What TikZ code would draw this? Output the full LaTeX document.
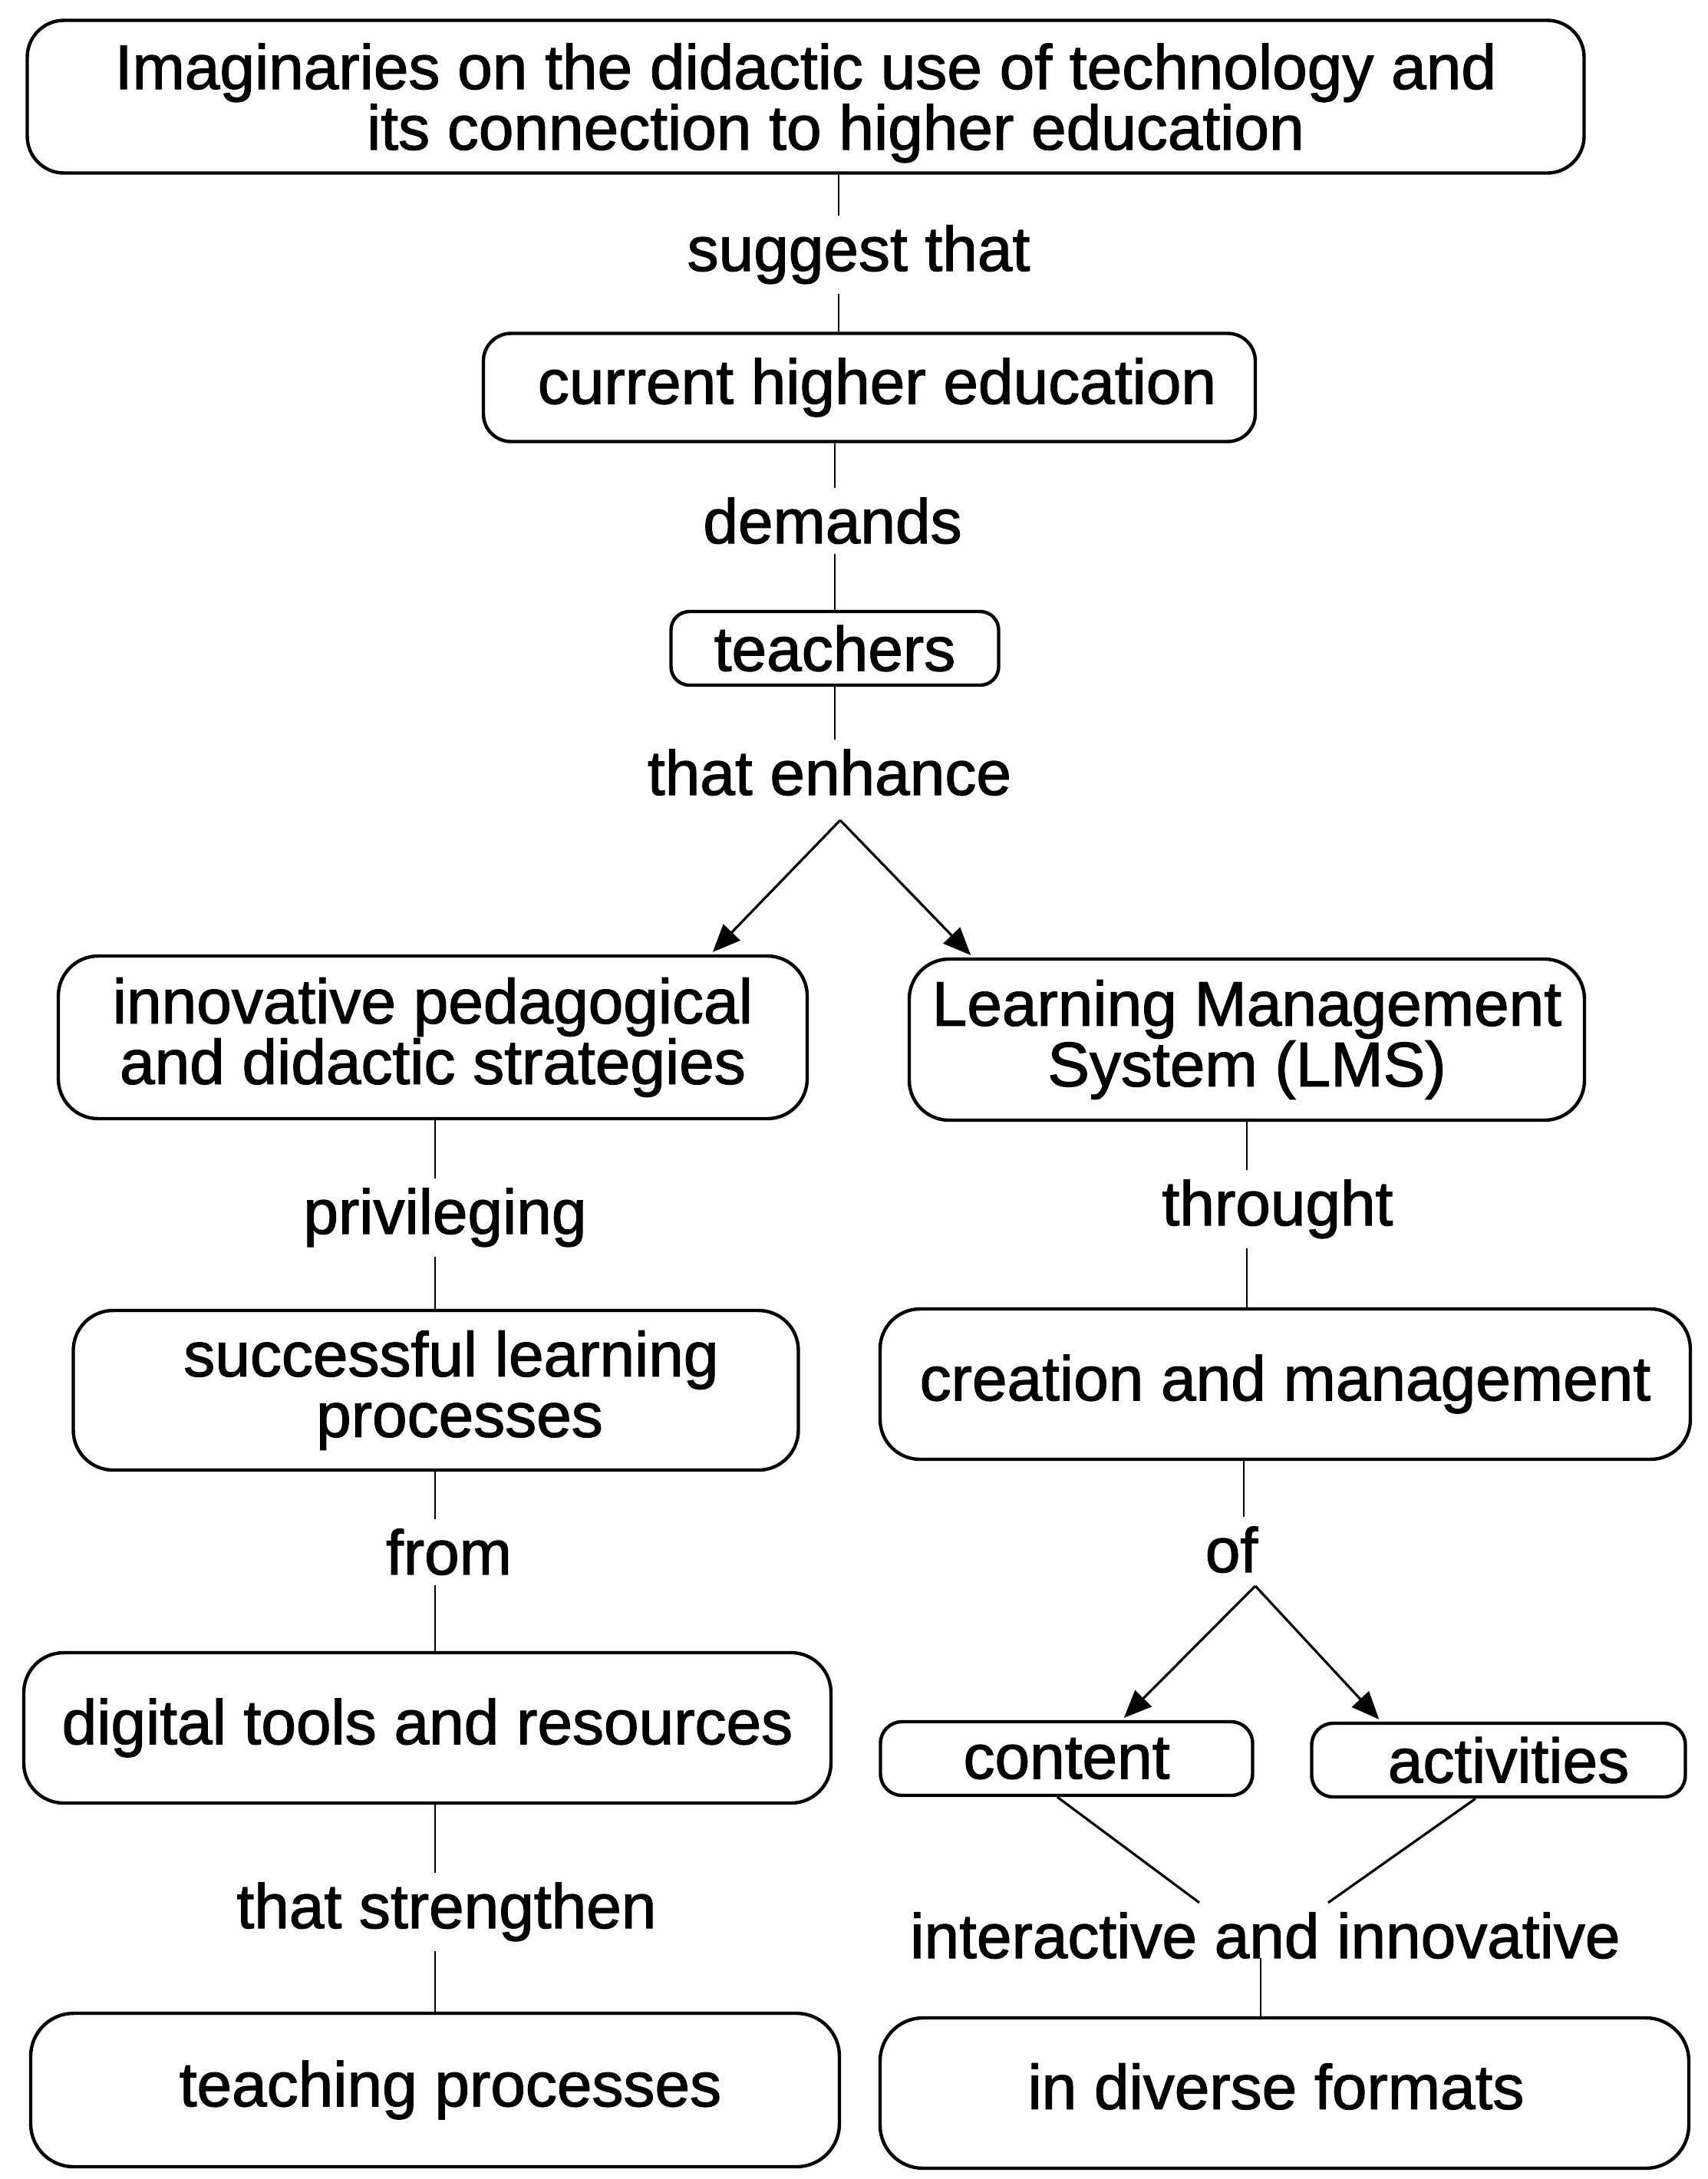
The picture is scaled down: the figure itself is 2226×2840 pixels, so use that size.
\documentclass[tikz,border=0pt]{standalone}
\usepackage{fontspec}
\setmainfont{Liberation Sans}[FakeBold=1.5]
\usetikzlibrary{arrows.meta}
\newcommand{\mylblfont}{\fontsize{20.5pt}{19.75pt}\selectfont}
\tikzset{
  box/.style={draw, line width=1.1pt, rounded corners=#1, align=center, inner sep=0pt, font=\mylblfont},
  box/.default=12pt,
  conn/.style={line width=0.65pt},
  diag/.style={line width=0.8pt},
  arr/.style={line width=0.8pt, -{Triangle[length=9pt,width=7.5pt]}, shorten >=1pt},
  lab/.style={inner sep=3pt, font=\mylblfont, anchor=base}
}
\begin{document}
\begin{tikzpicture}[x=0.25pt,y=-0.25pt]
\useasboundingbox (0,0) rectangle (2226,2840);

% boxes
\node[box=12pt, minimum width=507.25pt, minimum height=49.75pt] (top) at (1050,126)
  {\rule{0pt}{19pt}Imaginaries on the didactic use of technology and\\\hspace*{19.5pt}its connection to higher education};
\node[box=9pt, minimum width=251.5pt, minimum height=35.25pt] (current) at (1133,505)
  {\hspace*{5pt}current higher education};
\node[box=6pt, minimum width=106.75pt, minimum height=24pt] (teachers) at (1088,845) {teachers};
\node[box=13pt, minimum width=244pt, minimum height=53pt] (innov) at (564,1352)
  {innovative pedagogical\\and didactic strategies};
\node[box=13pt, minimum width=220pt, minimum height=52.5pt] (lms) at (1625,1355)
  {Learning Management\\System (LMS)};
\node[box=13pt, minimum width=236.25pt, minimum height=52pt] (success) at (568,1812)
  {\hspace*{10pt}successful learning\\\hspace*{15.5pt}processes};
\node[box=13pt, minimum width=264pt, minimum height=49pt] (creation) at (1675,1804)
  {creation and management};
\node[box=13pt, minimum width=263pt, minimum height=49pt] (digital) at (557,2252)
  {digital tools and resources};
\node[box=7pt, minimum width=121.25pt, minimum height=24pt] (content) at (1390,2292) {content};
\node[box=7pt, minimum width=121.75pt, minimum height=24pt] (activities) at (1953,2294)
  {\hspace*{6.5pt}activities};
\node[box=14pt, minimum width=263.5pt, minimum height=49pt, text depth=4.5pt] (formats) at (1674,2728)
  {\hspace*{-5.5pt}in diverse formats};
\node[box=14pt, minimum width=263.5pt, minimum height=50pt] (teaching) at (567,2724)
  {\hspace*{10pt}teaching processes};

% linking phrases
\node[lab] (suggest) at (1119,353) {suggest that};
\node[lab] (demands) at (1085,708) {demands};
\node[lab] (enhance) at (1081,1036) {that enhance};
\node[lab] (privileging) at (580,1608) {privileging};
\node[lab] (throught) at (1665,1597) {throught};
\node[lab] (from) at (585,2052) {from};
\node[lab] (of) at (1605,2049) {of};
\node[lab] (strengthen) at (582,2513) {that strengthen};
\node[lab] (interactive) at (1649,2552) {interactive and innovative};

% connector x positions
\coordinate (x1) at (1093,0);
\coordinate (x2) at (1088,0);
\coordinate (x3) at (567,0);
\coordinate (x4) at (1625,0);
\coordinate (x5) at (1621,0);
\coordinate (x6) at (1643,0);
\coordinate (apexA) at (1095,1069);
\coordinate (tipA) at (926,0);
\coordinate (tipB) at (1268,0);
\coordinate (apexB) at (1636,2067);
\coordinate (tipC) at (1462,0);
\coordinate (tipD) at (1800,0);
\coordinate (cb) at (1378,0);
\coordinate (ab) at (1923,0);
\coordinate (ie1) at (1563,0);
\coordinate (ie2) at (1731,0);

% connectors
\draw[conn] (top.south -| x1) -- (suggest.north -| x1);
\draw[conn] (suggest.south -| x1) -- (current.north -| x1);
\draw[conn] (current.south -| x2) -- (demands.north -| x2);
\draw[conn] (demands.south -| x2) -- (teachers.north -| x2);
\draw[conn] (teachers.south -| x2) -- (enhance.north -| x2);
\draw[arr] (apexA) -- (innov.north -| tipA);
\draw[arr] (apexA) -- (lms.north -| tipB);

\draw[conn] (innov.south -| x3) -- (privileging.north -| x3);
\draw[conn] (privileging.south -| x3) -- (success.north -| x3);
\draw[conn] (success.south -| x3) -- (from.north -| x3);
\draw[conn] (from.south -| x3) -- (digital.north -| x3);
\draw[conn] (digital.south -| x3) -- (strengthen.north -| x3);
\draw[conn] (strengthen.south -| x3) -- (teaching.north -| x3);

\draw[conn] (lms.south -| x4) -- (throught.north -| x4);
\draw[conn] (throught.south -| x4) -- (creation.north -| x4);
\draw[conn] (creation.south -| x5) -- (of.north -| x5);
\draw[arr] (apexB) -- (content.north -| tipC);
\draw[arr] (apexB) -- (activities.north -| tipD);
\draw[diag] (content.south -| cb) -- (interactive.north -| ie1);
\draw[diag] (activities.south -| ab) -- (interactive.north -| ie2);
\draw[conn] (interactive.base -| x6) -- (formats.north -| x6);
\end{tikzpicture}
\end{document}
